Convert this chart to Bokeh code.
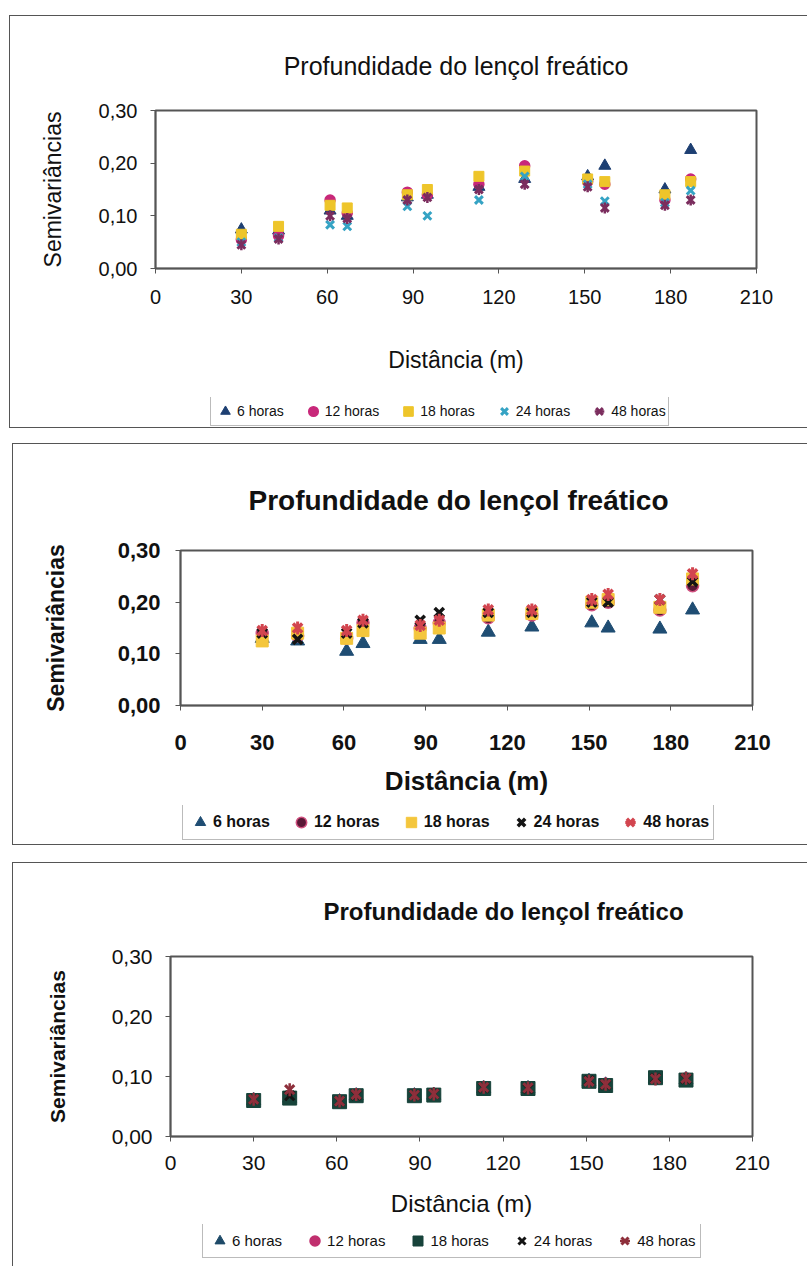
from bokeh.plotting import figure
from bokeh.models import (Range1d, FixedTicker, CustomJSTickFormatter, Legend,
                          LegendItem, Column)
from bokeh.embed import file_html
from bokeh.resources import INLINE
import math

# ---- data -------------------------------------------------------------
series_labels = ["6 horas", "12 horas", "18 horas", "24 horas", "48 horas"]
x_ticks = [0, 30, 60, 90, 120, 150, 180, 210]
y_ticks = [0.0, 0.1, 0.2, 0.3]

title_text = "Profundidade do lençol freático"
x_label = "Distância (m)"
y_label = "Semivariâncias"

# panel 1
dist_1 = [30, 43, 61, 67, 88, 95, 113, 129, 151, 157, 178, 187]
p1_6h = [0.074, 0.072, 0.110, 0.100, 0.135, 0.140, 0.155, 0.170, 0.175, 0.195, 0.150, 0.225]
p1_12h = [0.055, 0.062, 0.130, 0.105, 0.145, 0.140, 0.160, 0.195, 0.165, 0.160, 0.130, 0.170]
p1_18h = [0.065, 0.080, 0.120, 0.115, 0.140, 0.150, 0.175, 0.185, 0.170, 0.165, 0.140, 0.165]
p1_24h = [0.050, 0.058, 0.083, 0.080, 0.118, 0.100, 0.130, 0.175, 0.160, 0.128, 0.125, 0.148]
p1_48h = [0.045, 0.056, 0.100, 0.095, 0.130, 0.135, 0.150, 0.160, 0.155, 0.115, 0.120, 0.130]

# panel 2
dist_2 = [30, 43, 61, 67, 88, 95, 113, 129, 151, 157, 176, 188]
p2_6h = [0.130, 0.125, 0.105, 0.120, 0.128, 0.128, 0.142, 0.152, 0.160, 0.150, 0.148, 0.185]
p2_12h = [0.140, 0.135, 0.130, 0.160, 0.150, 0.160, 0.170, 0.175, 0.195, 0.200, 0.185, 0.232]
p2_18h = [0.125, 0.140, 0.130, 0.145, 0.140, 0.150, 0.175, 0.178, 0.200, 0.205, 0.190, 0.245]
p2_24h = [0.140, 0.128, 0.140, 0.160, 0.165, 0.180, 0.180, 0.180, 0.200, 0.200, 0.205, 0.240]
p2_48h = [0.145, 0.150, 0.145, 0.165, 0.155, 0.165, 0.185, 0.185, 0.205, 0.215, 0.205, 0.255]

# panel 3
dist_3 = [30, 43, 61, 67, 88, 95, 113, 129, 151, 157, 175, 186]
p3_6h = [0.060, 0.064, 0.058, 0.068, 0.068, 0.069, 0.080, 0.080, 0.092, 0.086, 0.097, 0.095]
p3_12h = [0.061, 0.066, 0.058, 0.069, 0.068, 0.070, 0.081, 0.081, 0.093, 0.087, 0.097, 0.096]
p3_18h = [0.060, 0.064, 0.058, 0.068, 0.068, 0.069, 0.080, 0.080, 0.092, 0.085, 0.098, 0.094]
p3_24h = [0.062, 0.068, 0.059, 0.069, 0.069, 0.071, 0.081, 0.080, 0.093, 0.086, 0.097, 0.096]
p3_48h = [0.062, 0.078, 0.059, 0.070, 0.069, 0.071, 0.082, 0.081, 0.092, 0.087, 0.096, 0.097]

FONT = "Liberation Sans"


def add_series(p, dist, series, colors, cfg):
    """Draws the five series on p; returns the renderers grouped per series."""
    ms = cfg["marker_size"]
    r6 = p.scatter(dist, series[0], marker="triangle", size=ms + 1,
                   fill_color=colors[0], line_color=colors[0])
    r12 = p.scatter(dist, series[1], marker="circle", size=ms - 1,
                    fill_color=colors[1], line_color=cfg.get("c12_line", colors[1]),
                    line_width=1.5)
    r18 = p.scatter(dist, series[2], marker="square", size=ms - 1 + cfg.get("sq_extra", 0),
                    fill_color=colors[2], line_color=colors[2])
    r24 = p.scatter(dist, series[3], marker="x", size=ms, line_color=colors[3],
                    line_width=cfg["x_width"])
    # 48 horas: cross with a vertical bar
    r48a = p.scatter(dist, series[4], marker="x", size=ms, line_color=colors[4],
                     line_width=cfg["x_width"])
    r48b = p.scatter(dist, series[4], marker="dash", angle=math.pi / 2, size=ms,
                     line_color=colors[4], line_width=cfg["x_width"] - 0.5)
    return [[r6], [r12], [r18], [r24], [r48a, r48b]]


def make_panel(dist, series, colors, cfg):
    fw, fh = cfg["frame"]
    bl, br, bt, bb = cfg["borders"]
    p = figure(frame_width=fw, frame_height=fh,
               min_border_left=bl, min_border_right=br,
               min_border_top=bt, min_border_bottom=bb,
               x_range=Range1d(0, 210), y_range=Range1d(0, 0.3),
               output_backend="svg", toolbar_location=None,
               background_fill_color="white", border_fill_color="white")
    p.grid.visible = False
    p.outline_line_color = "#555555"
    p.outline_line_width = 2

    # title
    p.title.text = title_text
    p.title.align = cfg["title_align"]
    p.title.offset = cfg["title_offset"]
    p.title.text_font = FONT
    p.title.text_font_size = cfg["title_size"]
    p.title.text_font_style = cfg["title_style"]
    p.title.text_color = "#111111"
    p.title.standoff = cfg["title_standoff"]

    # axes
    for ax in (p.xaxis[0], p.yaxis[0]):
        ax.axis_line_color = "#555555"
        ax.axis_line_width = 1.5
        ax.major_tick_line_color = "#555555"
        ax.major_tick_out = 5
        ax.major_tick_in = 0
        ax.minor_tick_out = 0
        ax.minor_tick_in = 0
        ax.major_label_text_font = FONT
        ax.major_label_text_font_size = cfg["tick_size"]
        ax.major_label_text_font_style = cfg["tick_style"]
        ax.major_label_text_color = "#111111"
        ax.axis_label_text_font = FONT
        ax.axis_label_text_color = "#111111"

    xa, ya = p.xaxis[0], p.yaxis[0]
    xa.ticker = FixedTicker(ticks=x_ticks)
    xa.major_label_standoff = cfg["x_tick_standoff"]
    xa.axis_label = x_label
    xa.axis_label_text_font_size = cfg["xlab_size"]
    xa.axis_label_text_font_style = cfg["xlab_style"]
    xa.axis_label_standoff = cfg["xlab_standoff"]

    ya.ticker = FixedTicker(ticks=y_ticks)
    ya.formatter = CustomJSTickFormatter(code="return tick.toFixed(2).replace('.', ',');")
    ya.major_label_standoff = cfg["y_tick_standoff"]
    ya.axis_label = y_label
    ya.axis_label_text_font_size = cfg["ylab_size"]
    ya.axis_label_text_font_style = cfg["ylab_style"]
    ya.axis_label_standoff = cfg["ylab_standoff"]

    add_series(p, dist, series, colors, cfg)
    p.margin = 0

    # legend strip under the chart; the same series are drawn here outside the
    # strip's visible range, so only their legend entries show
    lh = cfg["legend_h"]
    lp = figure(frame_width=fw, frame_height=lh + 2, title=None,
                min_border_left=bl, min_border_right=br,
                min_border_top=0, min_border_bottom=cfg["legend_bottom"],
                x_range=Range1d(-2, -1), y_range=Range1d(0, 1),
                output_backend="svg", toolbar_location=None,
                background_fill_color="white", border_fill_color="white")
    lp.axis.visible = False
    lp.grid.visible = False
    lp.outline_line_color = None
    lp.margin = 0
    proxies = add_series(lp, dist, series, colors, cfg)
    items = [LegendItem(label=lab, renderers=rs)
             for lab, rs in zip(series_labels, proxies)]
    leg = Legend(items=items, orientation="horizontal",
                 location=(cfg["legend_x"], 1))
    leg.margin = 0
    leg.label_text_font = FONT
    leg.label_text_font_size = cfg["legend_size"]
    leg.label_text_font_style = cfg["legend_style"]
    leg.label_text_color = "#111111"
    leg.border_line_color = "#777777"
    leg.border_line_width = 1
    leg.background_fill_color = "white"
    leg.background_fill_alpha = 1
    leg.padding = cfg["legend_pad"]
    leg.spacing = cfg["legend_spacing"]
    leg.label_standoff = 0
    leg.glyph_width = cfg["legend_glyph"]
    leg.glyph_height = cfg["legend_glyph"]
    lp.add_layout(leg, "center")

    # framed box around the whole panel (its right side runs past the page)
    box = Column(children=[p, lp], spacing=0, margin=cfg["box_margin"],
                 styles={"border-left": "1px solid #555", "border-top": "1px solid #555",
                         "border-bottom": "1px solid #555", "background-color": "white"})
    return box


cfg1 = dict(frame=(601, 158), borders=(145, 51, 94, 129),
            title_align="center", title_offset=0,
            title_size="25px", title_style="normal", title_standoff=62,
            tick_size="20px", tick_style="normal",
            x_tick_standoff=16, y_tick_standoff=13,
            xlab_size="23px", xlab_style="normal", xlab_standoff=40,
            ylab_size="23px", ylab_style="normal", ylab_standoff=30,
            marker_size=11, x_width=3,
            legend_x=55, legend_h=28, legend_bottom=0, legend_pad=2, legend_glyph=24,
            legend_size="14px", legend_style="normal", legend_spacing=17,
            box_margin=(15, 0, 0, 9))

cfg2 = dict(frame=(572, 155), borders=(167, 55, 106, 100),
            title_align="left", title_offset=68,
            title_size="28px", title_style="bold", title_standoff=69,
            tick_size="22px", tick_style="bold",
            x_tick_standoff=24, y_tick_standoff=15,
            xlab_size="26px", xlab_style="bold", xlab_standoff=13,
            ylab_size="23px", ylab_style="bold", ylab_standoff=46,
            marker_size=13, x_width=3.5, c12_line="#d0507f",
            legend_x=2, legend_h=34, legend_bottom=3, legend_pad=4, legend_glyph=26,
            legend_size="16px", legend_style="bold", legend_spacing=18,
            box_margin=(15, 0, 0, 12))

cfg3 = dict(frame=(582, 180), borders=(157, 55, 93, 88),
            title_align="left", title_offset=153,
            title_size="24px", title_style="bold", title_standoff=63,
            tick_size="21px", tick_style="normal",
            x_tick_standoff=14, y_tick_standoff=13,
            xlab_size="24px", xlab_style="normal", xlab_standoff=17,
            ylab_size="21px", ylab_style="bold", ylab_standoff=40,
            marker_size=13, x_width=3, sq_extra=2,
            legend_x=32, legend_h=33, legend_bottom=12, legend_pad=4, legend_glyph=25,
            legend_size="15px", legend_style="normal", legend_spacing=20,
            box_margin=(17, 0, 0, 12))

colors1 = ["#1d3f72", "#c8287a", "#eec52a", "#35a3c4", "#7b2d5e"]
colors2 = ["#1f4d73", "#5a1836", "#f4c63c", "#141414", "#d2454f"]
colors3 = ["#1e4a68", "#c02f6e", "#17433a", "#141414", "#8e2f3b"]

panel_1 = make_panel(dist_1, [p1_6h, p1_12h, p1_18h, p1_24h, p1_48h], colors1, cfg1)
panel_2 = make_panel(dist_2, [p2_6h, p2_12h, p2_18h, p2_24h, p2_48h], colors2, cfg2)
panel_3 = make_panel(dist_3, [p3_6h, p3_12h, p3_18h, p3_24h, p3_48h], colors3, cfg3)

open("out.html", "w").write(file_html([panel_1, panel_2, panel_3], INLINE))
